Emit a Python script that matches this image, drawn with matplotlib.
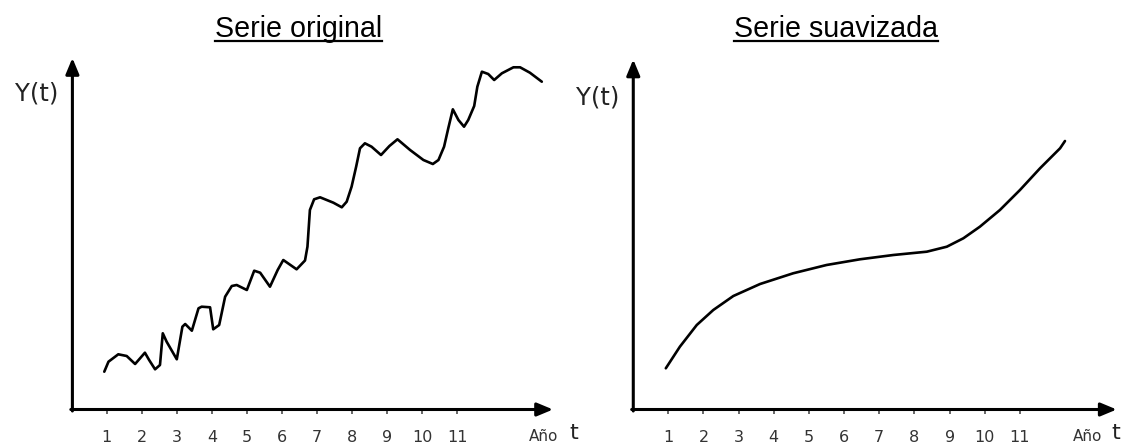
import matplotlib
matplotlib.use("Agg")
import matplotlib.pyplot as plt
from matplotlib.lines import Line2D

# ---------------- data ----------------
years = [1, 2, 3, 4, 5, 6, 7, 8, 9, 10, 11]
year_labels = ["1", "2", "3", "4", "5", "6", "7", "8", "9", "10", "11"]

orig_t = [0.93, 1.05, 1.33, 1.57, 1.81, 2.09, 2.21, 2.38, 2.52, 2.60, 2.71, 3.00,
          3.16, 3.24, 3.43, 3.62, 3.71, 3.95, 4.04, 4.21, 4.38, 4.57, 4.71, 5.00,
          5.21, 5.38, 5.66, 5.88, 6.04, 6.42, 6.66, 6.73, 6.80, 6.92, 7.09, 7.47,
          7.71, 7.85, 7.99, 8.12, 8.23, 8.37, 8.56, 8.83, 9.07, 9.30, 9.66, 10.04,
          10.31, 10.47, 10.63, 10.75, 10.88, 11.04, 11.20, 11.32, 11.49, 11.58,
          11.71, 11.89, 12.06, 12.28, 12.61, 12.80, 13.08, 13.42]
orig_y = [37.8, 47.8, 55.2, 53.5, 45.5, 56.8, 49.5, 40.2, 44.5, 76.2, 67.8, 50.2,
          82.8, 85.5, 78.8, 101.2, 102.8, 102.2, 80.2, 84.5, 112.8, 123.5, 124.5, 119.5,
          138.8, 136.8, 122.8, 139.5, 149.5, 140.2, 149.0, 162.8, 199.5, 210.2, 212.2, 206.8,
          202.2, 207.8, 222.8, 242.8, 261.2, 266.2, 262.8, 254.5, 263.5, 270.2, 259.5, 249.5,
          245.5, 249.5, 262.8, 281.2, 300.2, 289.5, 282.8, 289.5, 303.5, 322.8,
          337.8, 335.5, 329.5, 336.2, 342.2, 342.2, 336.8, 327.8]

smooth_t = [0.93, 1.33, 1.81, 2.28, 2.85, 3.61, 4.55, 5.50, 6.45, 7.40, 8.35,
            8.92, 9.39, 9.86, 10.43, 11.00, 11.57, 12.14, 12.28]
smooth_y = [41.2, 62.8, 84.5, 99.5, 113.5, 125.5, 136.2, 144.5, 150.2, 154.5, 157.8,
            162.8, 171.2, 182.8, 199.5, 219.5, 241.2, 261.2, 268.5]

titles = ["Serie original", "Serie suavizada"]
y_label = "Y(t)"
x_small = "Año"
x_big = "t"

# ---------------- figure ----------------
W, H = 1127, 445
fig = plt.figure(figsize=(W / 100, H / 100), dpi=100)
fig.patch.set_facecolor("white")

axis_px_from_top = 409.5
bottom = (H - axis_px_from_top) / H
height = 360 / H

panels = [
    dict(left_px=71.7, unit=35.03, yaxis_t=0.02, tip_t=13.74, tip_y=351.5,
         t=orig_t, y=orig_y, ylab_t=-0.99, ylab_y=315.5, ano_t=13.48, tt=14.34,
         title_cx=298.5),
    dict(left_px=633.1, unit=35.17, yaxis_t=0.005, tip_t=13.75, tip_y=350.0,
         t=smooth_t, y=smooth_y, ylab_t=-1.01, ylab_y=312.5, ano_t=12.92, tt=13.71,
         title_cx=836.0),
]

arrow_style = "-|>,head_length=0.6,head_width=0.25"

for i, p in enumerate(panels):
    ax = fig.add_axes([p["left_px"] / W, bottom, 14 * p["unit"] / W, height])
    ax.set_xlim(0, 14)
    ax.set_ylim(0, 360)
    for s in ax.spines.values():
        s.set_visible(False)
    ax.set_facecolor("none")
    ax.set_yticks([])
    ax.set_xticks(years)
    ax.set_xticklabels(year_labels)
    ax.tick_params(axis="x", direction="out", length=3, width=1.4, color="#666666",
                   pad=12, labelsize=11.5, labelcolor="#333333")
    for lab in ax.get_xticklabels():
        lab.set_family("DejaVu Sans")

    # axes arrows
    y0 = p["yaxis_t"]
    ax.annotate("", xy=(p["tip_t"], 0), xytext=(y0 - 0.045, 0),
                arrowprops=dict(arrowstyle=arrow_style, mutation_scale=16, lw=2.2,
                                color="black", shrinkA=0, shrinkB=0),
                annotation_clip=False)
    ax.annotate("", xy=(y0, p["tip_y"]), xytext=(y0, -1.5),
                arrowprops=dict(arrowstyle=arrow_style, mutation_scale=16, lw=2.2,
                                color="black", shrinkA=0, shrinkB=0),
                annotation_clip=False)

    # curve
    ax.plot(p["t"], p["y"], color="black", lw=1.9, solid_joinstyle="round",
            solid_capstyle="round", clip_on=False)

    # labels
    ax.text(p["ylab_t"], p["ylab_y"], y_label, ha="center", va="center",
            fontsize=17.5, color="#222222", family="DejaVu Sans", clip_on=False)
    ax.text(p["ano_t"], -31.5, x_small, ha="center", va="baseline",
            fontsize=11, color="#333333", family="DejaVu Sans", clip_on=False)
    ax.text(p["tt"], -29.5, x_big, ha="center", va="baseline",
            fontsize=16, color="#222222", family="DejaVu Sans", clip_on=False)

# titles with underline
title_texts = []
for i, p in enumerate(panels):
    tx = fig.text(p["title_cx"] / W, (H - 36.7) / H, titles[i], ha="center",
                  va="baseline", fontsize=20.6, family="Liberation Sans", color="black")
    title_texts.append(tx)

fig.canvas.draw()
renderer = fig.canvas.get_renderer()
for tx in title_texts:
    bb = tx.get_window_extent(renderer=renderer)
    yline = (H - 40.5) / H
    fig.add_artist(Line2D([bb.x0 / W, bb.x1 / W], [yline, yline],
                          transform=fig.transFigure, color="black", lw=1.6))

fig.savefig("out.png", dpi=100, facecolor="white")
